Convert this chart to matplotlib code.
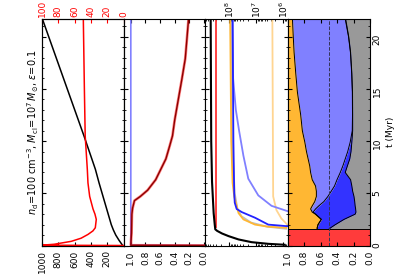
import numpy as np
import matplotlib.pyplot as plt

# ---- data (time in Myr) ----
# panel 1: black = bottom axis (0-1000), red = top axis (0-100)
t_black1 = [0, 0.5, 1.0, 1.5, 2.0, 2.8, 4.4, 6.0, 7.3, 10.5, 15.0, 21.7]
v_black1 = [10, 55, 95, 125, 150, 180, 240, 300, 345, 485, 690, 995]
t_red1 = [0, 0.03, 0.12, 0.4, 0.7, 1.06, 1.4, 1.7, 2.5, 3.0, 3.5, 4.7, 6.0, 7.3, 10.5, 15.0, 21.7]
v_red1 = [0, 100, 85, 64, 52, 43.6, 37.5, 34.6, 33.4, 35, 37.4, 41.5, 43.6, 44.4, 47, 48, 49.3]

# panel 2
t_blue2 = [0, 0.02, 21.7]
v_blue2 = [0, 1.0, 1.0]
t_dred2 = [0, 0.02, 1.2, 3.0, 3.6, 4.3, 4.7, 5.3, 6.3, 7.3, 8.3, 9.5, 10.5, 12.0, 14.0, 16.0, 17.9, 20.0, 21.7]
v_dred2 = [0, 1.0, 0.99, 0.985, 0.975, 0.95, 0.87, 0.77, 0.66, 0.59, 0.52, 0.47, 0.43, 0.40, 0.35, 0.30, 0.255, 0.23, 0.21]

# panel 3 (log10 of mass)
t_black3 = [0.07, 0.16, 0.32, 0.58, 0.9, 1.15, 1.4, 1.55, 2.0, 3.1, 6.1, 10.0, 21.7]
lg_black3 = [5.96, 6.56, 7.18, 7.66, 8.03, 8.27, 8.45, 8.52, 8.54, 8.58, 8.64, 8.67, 8.69]
t_red3 = [1.8, 21.7]
lg_red3 = [8.49, 8.49]
t_orange3 = [1.7, 1.8, 2.0, 2.5, 3.1, 4.7, 6.0, 10.0, 21.7]
lg_orange3 = [5.9, 6.56, 7.05, 7.48, 7.66, 7.82, 7.88, 7.93, 7.97]
t_grey3 = [1.6, 1.8, 2.2, 2.8, 3.5, 5.0, 10.0, 21.7]
lg_grey3 = [5.9, 6.6, 7.2, 7.55, 7.7, 7.8, 7.9, 7.95]
t_blue3 = [1.85, 2.0, 2.66, 3.2, 3.5, 4.1, 5.0, 10.0, 21.7]
lg_blue3 = [5.86, 6.56, 7.05, 7.54, 7.73, 7.80, 7.82, 7.85, 7.88]
t_lblue3 = [3.3, 3.8, 4.8, 6.4, 8.6, 11.0, 13.0, 16.0, 21.7]
lg_lblue3 = [5.86, 6.44, 6.93, 7.30, 7.48, 7.64, 7.76, 7.86, 7.88]
t_lorange3 = [2.0, 2.6, 3.4, 4.7, 21.7]
lg_lorange3 = [5.86, 6.08, 6.26, 6.38, 6.41]

# panel 4: fractions
t_red4 = 1.55
t4 = [1.55, 1.7, 2.0, 2.5, 3.0, 3.2, 3.5, 3.8, 4.2, 4.7, 5.2, 5.7, 6.3, 7.0, 7.6,
      8.3, 9.0, 9.9, 11.0, 12.5, 14.7, 16.5, 18.5, 20.0, 21.7]
f_grey = [.50, .477, .42, .315, .18, .17, .174, .18, .185, .194, .21, .22, .235, .30, .275,
          .245, .23, .22, .21, .21, .212, .22, .235, .258, .295]
f_dblue = [.14, .163, .21, .275, .48, .52, .486, .44, .375, .316, .26, .21, .165, .06, .055,
           .055, .04, .02, .005, .002, .002, .002, .002, .002, .005]
f_lblue = [0, 0, 0, 0, 0, .01, .06, .08, .11, .14, .18, .23, .30, .36, .40,
           .45, .50, .55, .605, .628, .666, .678, .683, .67, .64]
f_orange = [.36, .36, .37, .41, .34, .30, .28, .30, .33, .35, .35, .34, .30, .28, .27,
            .25, .23, .21, .18, .16, .12, .10, .08, .07, .06]

title = r'$n_{\rm d}\!=\!100$ cm$^{-3}$, $M_{\rm cl}\!=\!10^7\,M_{\odot}$, $\epsilon\!=\!0.1$'

plt.rcParams['font.size'] = 6.5
plt.rcParams['xtick.direction'] = 'in'
plt.rcParams['ytick.direction'] = 'in'
plt.rcParams['xtick.major.size'] = 3
plt.rcParams['ytick.major.size'] = 3
plt.rcParams['xtick.minor.size'] = 1.5
plt.rcParams['ytick.minor.size'] = 1.5
plt.rcParams['axes.linewidth'] = 0.8

fig = plt.figure(figsize=(4.11, 2.74), dpi=100)
W, H = 411.0, 274.0
edges = [42, 123.5, 205, 287.5, 370]
y_bot, y_top = 245.5, 19
axs = []
for i in range(4):
    ax = fig.add_axes([edges[i] / W, 1 - y_bot / H, (edges[i + 1] - edges[i]) / W, (y_bot - y_top) / H])
    ax.set_ylim(0, 21.7)
    ax.yaxis.set_major_locator(plt.MultipleLocator(5))
    ax.yaxis.set_minor_locator(plt.MultipleLocator(1))
    ax.tick_params(axis='y', which='both', left=True, right=True, labelleft=False)
    ax.tick_params(axis='x', which='both', top=True, bottom=True, labelrotation=90)
    axs.append(ax)
ax1, ax2, ax3, ax4 = axs

# panel 1
ax1.plot(v_black1, t_black1, color='k', lw=1.1)
ax1.set_xlim(1000, 0)
ax1.set_xticks([1000, 800, 600, 400, 200])
ax1.tick_params(axis='x', top=False)
ax1t = ax1.twiny()
ax1t.plot(v_red1, t_red1, color='red', lw=1.1)
ax1t.set_xlim(100, 0)
ax1t.set_xticks([100, 80, 60, 40, 20, 0])
ax1t.tick_params(axis='x', colors='red', labelrotation=90, direction='in', pad=1.5)
ax1t.set_ylim(0, 21.7)

# panel 2
ax2.plot(v_blue2, t_blue2, color='#8080ff', lw=1.2)
ax2.plot(v_dred2, t_dred2, color='red', lw=2.0, alpha=0.5)
ax2.plot(v_dred2, t_dred2, color='#8b0000', lw=1.0)
ax2.set_xlim(1.1, -0.015)
ax2.set_xticks([1.0, 0.8, 0.6, 0.4, 0.2, 0.0])
ax2.xaxis.set_major_formatter(plt.FormatStrFormatter('%.1f'))

# panel 3
ax3.set_xscale('log')
ax3.plot(10 ** np.array(lg_lorange3), t_lorange3, color='#ffd591', lw=1.3)
ax3.plot(10 ** np.array(lg_lblue3), t_lblue3, color='#8080ff', lw=1.3)
ax3.plot(10 ** np.array(lg_grey3), t_grey3, color='grey', lw=1.3, alpha=0.5)
ax3.plot(10 ** np.array(lg_orange3), t_orange3, color='#ffb733', lw=1.3)
ax3.plot(10 ** np.array(lg_blue3), t_blue3, color='#2222ff', lw=1.3)
ax3.plot(10 ** np.array(lg_red3), t_red3, color='#ff3333', lw=1.3)
ax3.plot(10 ** np.array(lg_black3), t_black3, color='k', lw=1.5)
ax3.set_xlim(10 ** 8.9, 10 ** 5.85)
ax3.tick_params(axis='x', which='both', labelbottom=False, labeltop=True, pad=1)

# panel 4
fr = np.array([f_grey, f_dblue, f_lblue, f_orange])
cum = np.vstack([np.zeros(len(t4)), np.cumsum(fr, axis=0)])
cols = ['#999999', '#3333ff', '#8080ff', '#ffb733']
for k in range(4):
    ax4.fill_betweenx(t4, cum[k], cum[k + 1], color=cols[k], lw=0)
for k in range(1, 4):
    ax4.plot(cum[k], t4, color='k', lw=0.7)
ax4.fill_betweenx([0, t_red4], 0, 1, color='#ff3b3b', lw=0)
ax4.axhline(t_red4, color='k', lw=0.7)
ax4.axvline(0.5, color='#333355', lw=0.7, ls='--')
ax4.set_xlim(1, 0)
ax4.set_xticks([1.0, 0.8, 0.6, 0.4, 0.2, 0.0])
ax4.xaxis.set_major_formatter(plt.FormatStrFormatter('%.1f'))
ax4.tick_params(axis='y', which='both', labelright=True, labelrotation=90, pad=2)
ax4.yaxis.set_label_position('right')
ax4.set_ylabel('t (Myr)', rotation=90, labelpad=3)

fig.text(33 / W, 1 - 132 / H, title, rotation=90, ha='center', va='center', fontsize=7)

fig.savefig('out.png', dpi=100)
